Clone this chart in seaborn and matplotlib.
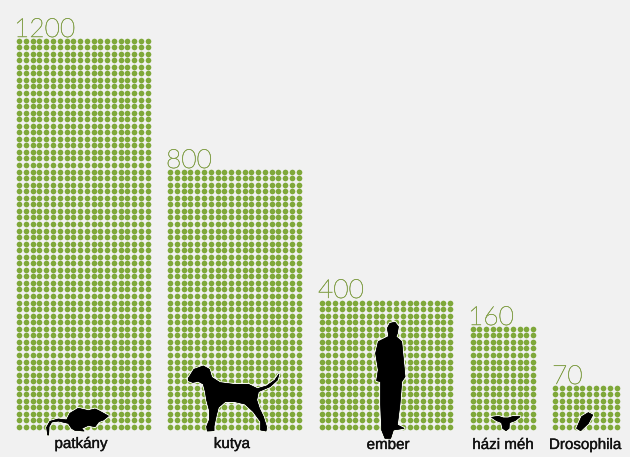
import pandas as pd
import numpy as np
import matplotlib.pyplot as plt
import matplotlib.patheffects as pe
from matplotlib.patches import Polygon
import seaborn as sns

# Chart values
labels = ['patkány', 'kutya', 'ember', 'házi méh', 'Drosophila']
counts = [1200, 800, 400, 160, 70]
columns = [20, 20, 20, 10, 10]

# Layout, in pixels of the 630x457 picture
BG = '#f1f1f1'
DOT = '#7fa83a'
NUM = '#86a24e'
left_px = [19.2, 170.2, 321.5, 472.5, 555.0]
step_px = [6.76, 6.76, 6.77, 6.73, 6.85]
bottom_px = 427.0
row_px = 6.55
num_xy = [(14, 37), (166, 168), (318, 298), (468, 325), (552, 384)]
label_xy = [(81, 444), (232, 444), (388, 445), (503, 445), (585, 445)]

# One row per dot, each group filled up from the bottom
rows = []
for name, n, c, x0, dx in zip(labels, counts, columns, left_px, step_px):
    for i in range(n):
        rows.append({'group': name,
                     'x': x0 + (i % c) * dx,
                     'y': bottom_px - (i // c) * row_px})
df = pd.DataFrame(rows)

sns.set_style('white')
fig = plt.figure(figsize=(6.3, 4.57), dpi=100, facecolor=BG)
ax = fig.add_axes([0, 0, 1, 1])
ax.set_facecolor(BG)

sns.scatterplot(data=df, x='x', y='y', color=DOT, s=16.5, linewidth=0, legend=False, ax=ax)

ax.set_xlim(0, 630)
ax.set_ylim(457, 0)
ax.axis('off')

for n, (x, y) in zip(counts, num_xy):
    t = ax.text(x, y, str(n), color=NUM, fontsize=19, family='Lato', weight='light',
                ha='left', va='baseline')
    t.set_path_effects([pe.withStroke(linewidth=0.35, foreground=NUM)])

for name, (x, y) in zip(labels, label_xy):
    ax.text(x, y, name, color='#111111', fontsize=10.9, family='Liberation Sans',
            ha='center', va='center', weight='normal',
            path_effects=[pe.withStroke(linewidth=0.25, foreground='#111111')])


def icon(points, ox, oy):
    pts = np.array(points) / 3.0 + [ox, oy]
    p = Polygon(pts, closed=True, facecolor='black', edgecolor='black', linewidth=0.4,
                joinstyle='round', zorder=5)
    p.set_path_effects([pe.withStroke(linewidth=2, foreground='#f4f8ec'), pe.Normal()])
    ax.add_patch(p)


rat = [(143, 165), (140, 142), (150, 124), (175, 117), (200, 120), (210, 100), (235, 85),
       (265, 92), (285, 87), (296, 92), (325, 108), (310, 120), (296, 125), (285, 140),
       (265, 136), (245, 145), (252, 153), (225, 151), (215, 145), (205, 130), (175, 123),
       (155, 126), (147, 140), (146, 165)]
dog = [(55, 85), (72, 58), (100, 48), (118, 58), (125, 82), (150, 98), (190, 103), (235, 103),
       (262, 116), (290, 108), (315, 90), (327, 72), (322, 90), (300, 110), (265, 125),
       (260, 150), (268, 175), (280, 200), (290, 232), (288, 243), (272, 240), (272, 215),
       (250, 185), (225, 162), (195, 155), (165, 155), (145, 172), (138, 200), (132, 228),
       (132, 242), (112, 243), (110, 230), (118, 210), (118, 180), (110, 150), (106, 125),
       (100, 102), (85, 94), (68, 97), (55, 92)]
man = [(232, 175), (240, 160), (255, 157), (265, 170), (262, 190), (258, 200), (275, 215),
       (285, 320), (275, 335), (270, 400), (262, 465), (282, 475), (250, 480), (242, 505),
       (225, 505), (215, 480), (212, 400), (212, 335), (200, 332), (205, 300), (197, 250),
       (205, 215), (235, 200), (235, 190)]
bee = [(95, 352), (115, 349), (130, 354), (145, 354), (160, 349), (180, 350), (165, 362),
       (148, 368), (147, 385), (138, 392), (128, 385), (125, 368), (110, 362)]
fly = [(350, 385), (365, 350), (385, 338), (398, 345), (385, 370), (362, 392)]

icon(rat, 0, 380)
icon(dog, 170, 350)
icon(man, 310, 270)
icon(bee, 460, 300)
icon(fly, 460, 300)

fig.savefig('out.png', dpi=100, facecolor=BG)
plt.close(fig)
